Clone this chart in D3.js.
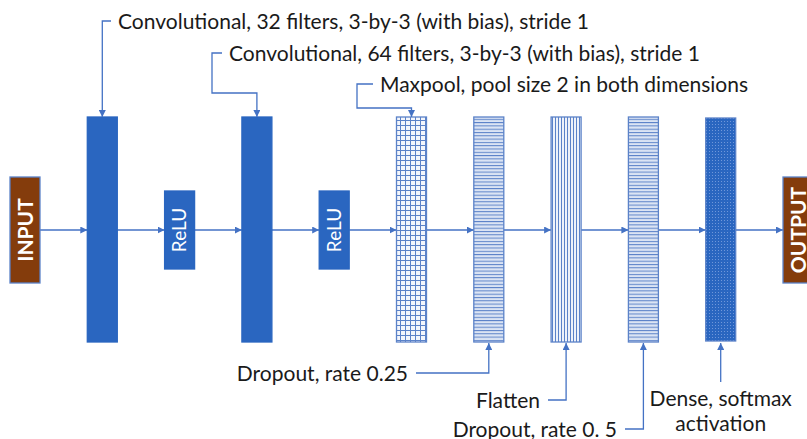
<!DOCTYPE html>
<html>
<head>
<meta charset="utf-8">
<script src="https://cdn.jsdelivr.net/npm/d3@7"></script>
<style>
  body { margin: 0; background: #fff; }
  text { font-family: Lato, "Open Sans", sans-serif; }
</style>
</head>
<body>
<svg id="chart"></svg>
<script>
// network layers, left to right
var layers = ['INPUT', 'conv1', 'relu1', 'conv2', 'relu2', 'maxpool', 'dropout1', 'flatten', 'dropout2', 'dense', 'OUTPUT']
var kinds = ['io', 'conv', 'relu', 'conv', 'relu', 'pool', 'drop', 'flat', 'drop', 'dense', 'io']
var blockText = ['INPUT', '', 'ReLU', '', 'ReLU', '', '', '', '', '', 'OUTPUT']

// callouts
var topLabels = ['Convolutional, 32 filters, 3-by-3 (with bias), stride 1',
                 'Convolutional, 64 filters, 3-by-3 (with bias), stride 1',
                 'Maxpool, pool size 2 in both dimensions']
var topTargets = ['conv1', 'conv2', 'maxpool']
var bottomLabels = ['Dropout, rate 0.25', 'Flatten', 'Dropout, rate 0. 5']
var bottomTargets = ['dropout1', 'flatten', 'dropout2']
var denseLabel = ['Dense, softmax', 'activation']
var denseTarget = 'dense'

var width = 807
var height = 439
var lineColor = '#4472c4'
var midY = 230
var fontSize = 21

var x = d3.scaleBand()
          .domain(layers)
          .range([10, 813])
          .paddingInner(0.612)
          .paddingOuter(0)

var bw = x.bandwidth()
var cx = d => x(d) + bw / 2

// vertical extent per kind of block
var extent = {
  io:    [177, 283],
  relu:  [191, 269],
  conv:  [117, 342],
  pool:  [117, 342],
  drop:  [117, 342],
  flat:  [117, 342],
  dense: [118, 341]
}
var fills = {
  io: '#843c0c',
  relu: '#2a66c0',
  conv: '#2a66c0',
  pool: 'url(#pool)',
  drop: 'url(#drop)',
  flat: 'url(#flat)',
  dense: 'url(#dense)'
}

var svg = d3.select('#chart')
            .attr('width', width)
            .attr('height', height)

var defs = svg.append('defs')

defs.append('marker')
    .attr('id', 'arrow')
    .attr('viewBox', '0 0 10 10')
    .attr('refX', 10).attr('refY', 5)
    .attr('markerWidth', 7).attr('markerHeight', 7)
    .attr('markerUnits', 'userSpaceOnUse')
    .attr('orient', 'auto')
  .append('path')
    .attr('d', 'M0,0 L10,5 L0,10 z')
    .attr('fill', lineColor)

// grid pattern for maxpool
var pool = defs.append('pattern').attr('id', 'pool')
    .attr('patternUnits', 'userSpaceOnUse').attr('width', 5).attr('height', 5)
pool.append('rect').attr('width', 5).attr('height', 5).attr('fill', '#f3f6fc')
pool.append('path').attr('d', 'M0,0.5 H5 M0.5,0 V5')
    .attr('stroke', '#5b82c8').attr('stroke-width', 1)

// horizontal lines for dropout
var drop = defs.append('pattern').attr('id', 'drop')
    .attr('patternUnits', 'userSpaceOnUse').attr('width', 6).attr('height', 3.3)
drop.append('rect').attr('width', 6).attr('height', 3.3).attr('fill', '#dbe4f4')
drop.append('path').attr('d', 'M0,0.5 H6')
    .attr('stroke', '#5b82c8').attr('stroke-width', 1)

// vertical lines for flatten
var flat = defs.append('pattern').attr('id', 'flat')
    .attr('patternUnits', 'userSpaceOnUse').attr('width', 3).attr('height', 6)
flat.append('rect').attr('width', 3).attr('height', 6).attr('fill', '#eef2fa')
flat.append('path').attr('d', 'M0.5,0 V6')
    .attr('stroke', '#5b82c8').attr('stroke-width', 1)

// dotted dark fill for dense
var dense = defs.append('pattern').attr('id', 'dense')
    .attr('patternUnits', 'userSpaceOnUse').attr('width', 3).attr('height', 3)
dense.append('rect').attr('width', 3).attr('height', 3).attr('fill', '#2a66c0')
dense.append('rect').attr('x', 1).attr('y', 1).attr('width', 1).attr('height', 1).attr('fill', '#6f97da')

// main flow arrows
var links = d3.pairs(layers)
svg.selectAll('.flow')
   .data(links)
   .enter()
   .append('line')
     .classed('flow', true)
     .attr('x1', d => x(d[0]) + bw)
     .attr('x2', d => x(d[1]))
     .attr('y1', midY).attr('y2', midY)
     .attr('stroke', lineColor)
     .attr('stroke-width', 1.3)
     .attr('marker-end', 'url(#arrow)')

// blocks
var blocks = svg.selectAll('.block')
                .data(layers)
                .enter()
                .append('g')
                  .classed('block', true)

blocks.append('rect')
   .attr('x', d => x(d))
   .attr('y', (d, i) => extent[kinds[i]][0])
   .attr('width', bw)
   .attr('height', (d, i) => extent[kinds[i]][1] - extent[kinds[i]][0])
   .attr('fill', (d, i) => fills[kinds[i]])
   .attr('stroke', (d, i) => kinds[i] == 'conv' || kinds[i] == 'relu' ? '#2a66c0' : '#5b82c8')
   .attr('stroke-width', 1.3)

blocks.append('text')
   .text((d, i) => blockText[i])
   .attr('transform', (d, i) => 'translate(' + cx(d) + ',' + midY + ') rotate(-90)')
   .attr('text-anchor', 'middle')
   .attr('dy', '0.36em')
   .attr('fill', '#fff')
   .attr('font-size', (d, i) => kinds[i] == 'io' ? 21 : 19)
   .attr('font-weight', (d, i) => kinds[i] == 'io' ? 'bold' : 'normal')

// top callouts: text x, bracket y, and elbow y
var topLayout = [
  { tx: 118, y: 21, elbow: null, startX: null },
  { tx: 229, y: 53, elbow: 93, startX: 212 },
  { tx: 380, y: 84, elbow: 108, startX: 357 }
]
var topTop = 117

topLabels.forEach(function (label, i) {
  var lay = topLayout[i]
  var tcx = cx(topTargets[i])
  var p = d3.path()
  if (lay.elbow == null) {
    p.moveTo(lay.tx - 7, lay.y)
    p.lineTo(tcx, lay.y)
    p.lineTo(tcx, topTop)
  } else {
    p.moveTo(lay.tx - 7, lay.y)
    p.lineTo(lay.startX, lay.y)
    p.lineTo(lay.startX, lay.elbow)
    p.lineTo(tcx, lay.elbow)
    p.lineTo(tcx, topTop)
  }
  svg.append('path')
     .attr('d', p.toString())
     .attr('fill', 'none')
     .attr('stroke', lineColor)
     .attr('stroke-width', 1.3)
     .attr('marker-end', 'url(#arrow)')
  svg.append('text')
     .text(label)
     .attr('x', lay.tx)
     .attr('y', lay.y)
     .attr('dy', '0.36em')
     .attr('font-size', fontSize)
     .attr('fill', '#1a1a1a')
})

// bottom callouts: text right edge and row y
var bottomLayout = [
  { tx: 408, y: 373 },
  { tx: 540, y: 400 },
  { tx: 617, y: 429 }
]
var blockBottom = 343

bottomLabels.forEach(function (label, i) {
  var lay = bottomLayout[i]
  var tcx = cx(bottomTargets[i])
  var p = d3.path()
  p.moveTo(lay.tx + 8, lay.y)
  p.lineTo(tcx, lay.y)
  p.lineTo(tcx, blockBottom)
  svg.append('path')
     .attr('d', p.toString())
     .attr('fill', 'none')
     .attr('stroke', lineColor)
     .attr('stroke-width', 1.3)
     .attr('marker-end', 'url(#arrow)')
  svg.append('text')
     .text(label)
     .attr('x', lay.tx)
     .attr('y', lay.y)
     .attr('dy', '0.36em')
     .attr('text-anchor', 'end')
     .attr('font-size', fontSize)
     .attr('fill', '#1a1a1a')
})

// dense callout
var dcx = cx(denseTarget)
svg.append('line')
   .attr('x1', dcx).attr('x2', dcx)
   .attr('y1', 382).attr('y2', blockBottom)
   .attr('stroke', lineColor)
   .attr('stroke-width', 1.3)
   .attr('marker-end', 'url(#arrow)')

svg.selectAll('.dense-label')
   .data(denseLabel)
   .enter()
   .append('text')
     .classed('dense-label', true)
     .text(d => d)
     .attr('x', dcx)
     .attr('y', (d, i) => 398 + i * 25)
     .attr('dy', '0.36em')
     .attr('text-anchor', 'middle')
     .attr('font-size', fontSize)
     .attr('fill', '#1a1a1a')
</script>
</body>
</html>
